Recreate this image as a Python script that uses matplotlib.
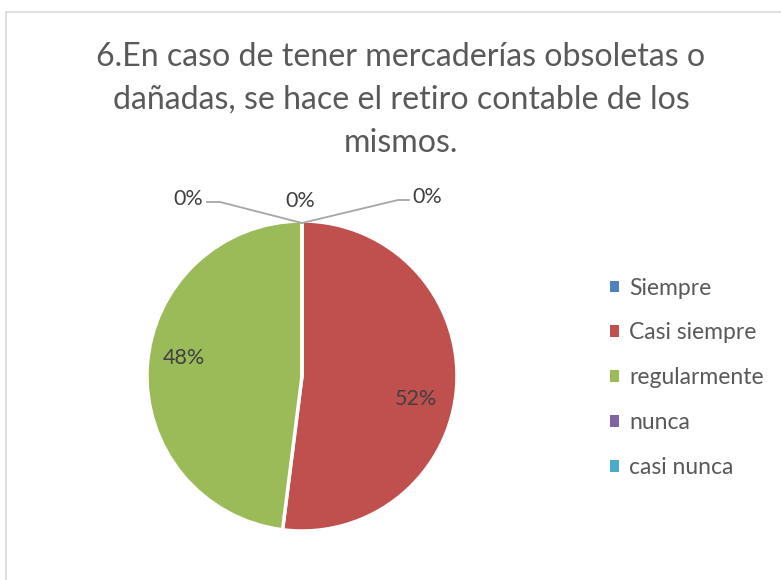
import matplotlib
matplotlib.use("Agg")
import matplotlib.pyplot as plt
from matplotlib.patches import Rectangle, Patch

categories = ["Siempre", "Casi siempre", "regularmente", "nunca", "casi nunca"]
values = [0, 52, 48, 0, 0]
colors = ["#4F81BD", "#C0504D", "#9BBB59", "#8064A2", "#4BACC6"]
title = "6.En caso de tener mercaderías obsoletas o\ndañadas, se hace el retiro contable de los\nmismos."

W, H = 781, 580
fig = plt.figure(figsize=(W / 100, H / 100), dpi=100)
plt.rcParams['font.family'] = ['Lato', 'DejaVu Sans']

# outer border
fig.patches.append(Rectangle((6 / W, -0.01), 1.0, 1 - 12 / H + 0.01, transform=fig.transFigure,
                             fill=False, edgecolor="#D9D9D9", linewidth=1.2))

fig.text(401 / W, 1 - 100 / H, title, ha="center", va="center", fontsize=23.1,
         color="#595959", linespacing=1.56)

ax = fig.add_axes([0, 0, 1, 1])
cx, cy, r = 302, H - 376, 155
wedges, _ = ax.pie(values, colors=colors, startangle=90, counterclock=False,
                   center=(cx, cy), radius=r,
                   wedgeprops=dict(edgecolor="white", linewidth=2.5))
ax.set_xlim(0, W)
ax.set_ylim(0, H)
ax.set_aspect("equal")
ax.axis("off")

total = sum(values)
# label positions (layout only)
label_pos = {0: (188, 199), 1: (416, 399), 2: (184, 358), 3: (300, 201), 4: (427, 197)}
for i, v in enumerate(values):
    x, y = label_pos[i]
    ax.text(x, H - y, f"{round(100 * v / total)}%", ha="center", va="center",
            fontsize=15.5, color="#404040")

# leader lines for zero slices
top = (cx, cy + r - 2)
ax.plot([207, 220, top[0]], [H - 202, H - 202, top[1]], color="#A6A6A6", lw=1.3)
ax.plot([top[0], 398, 409], [top[1], H - 200, H - 200], color="#A6A6A6", lw=1.3)

handles = [Patch(facecolor=c, edgecolor="none") for c in colors]
leg = fig.legend(handles, categories, loc="upper left", bbox_to_anchor=(589 / W, 1 - 257 / H),
                 frameon=False, fontsize=16.5, labelspacing=1.04, handlelength=0.4,
                 handleheight=0.4, handletextpad=0.45, labelcolor="#595959")

fig.savefig("out.png", dpi=100)
